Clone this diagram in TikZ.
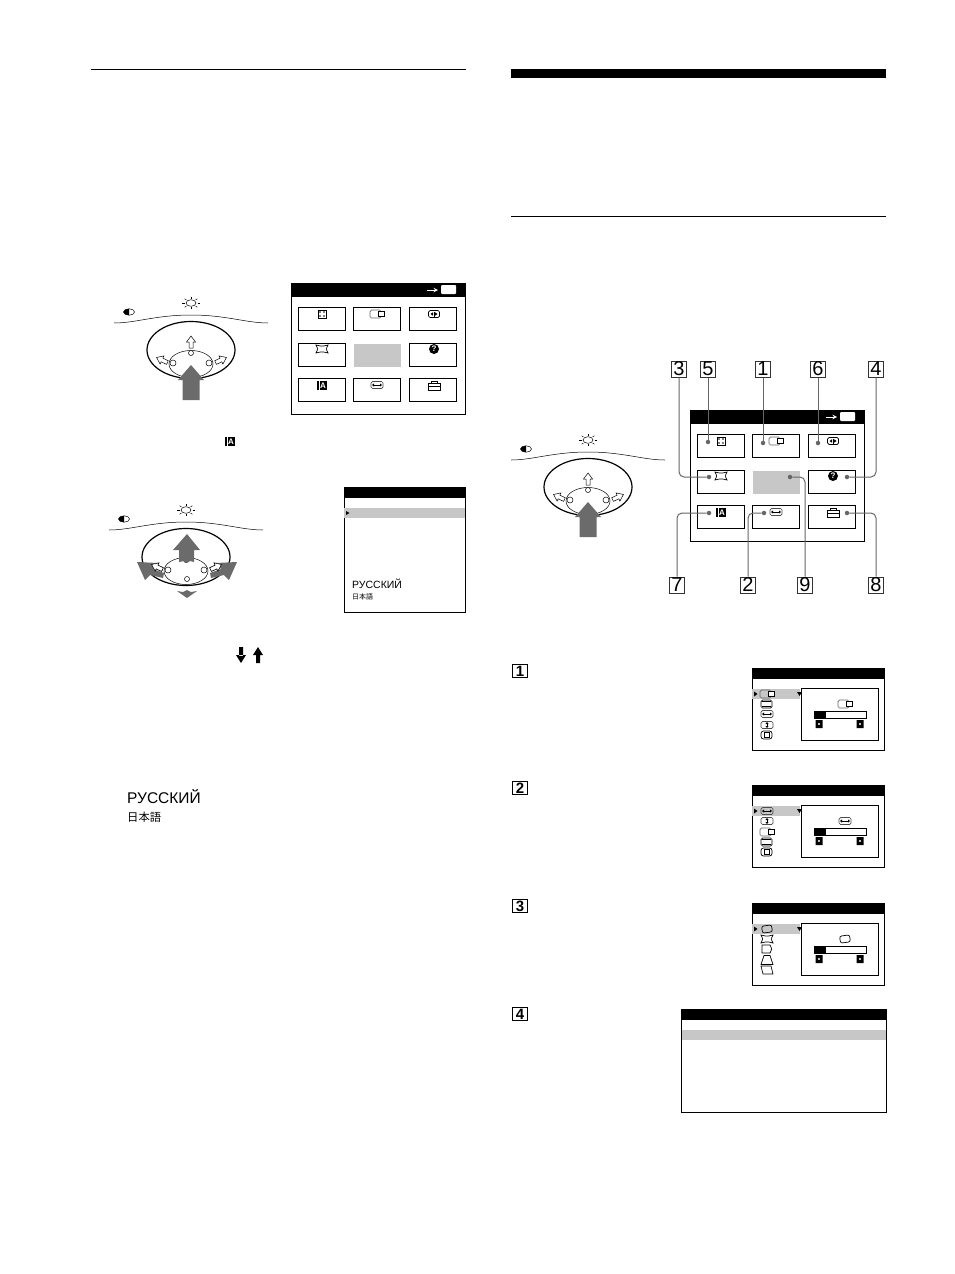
\documentclass[tikz,border=0pt]{standalone}
\usepackage{fontspec}
\setmainfont{Liberation Sans}
\newfontfamily\jpfont{Noto Sans CJK JP}
\tikzset{
	menuline/.style = {draw=black, line width=0.9pt},
	menubtn/.style = {menuline, inner sep=0pt, minimum width=47pt, minimum height=23pt},
	icon/.style = {draw=black, line width=0.7pt},
	dialline/.style = {draw=black, line width=0.5pt},
	pressfill/.style = {fill=black!58, draw=none},
	calloutnum/.style = {draw=black!80, line width=1pt, fill=white, inner sep=0pt, minimum width=15pt, minimum height=16pt, font=\fontsize{20}{20}\selectfont},
	stepnum/.style = {draw=black, line width=1.2pt, fill=white, inner sep=0pt, minimum width=15pt, minimum height=13pt, font=\fontsize{15}{15}\selectfont\bfseries},
	calloutdot/.style = {circle, fill=black!60, inner sep=0pt, minimum size=4.5pt},
	callout/.style = {draw=black!60, line width=1pt, rounded corners=5pt},
	% small icons, drawn round their centre
	icoshift/.pic = {
		\draw[icon, draw=black!60, rounded corners=1.5pt] (-7,-4) rectangle (4,4);
		\draw[icon, fill=white] (1,-3) rectangle (7,2);
	},
	icodots/.pic = {
		\draw[icon] (-4,-4) rectangle (4,4);
		\fill (-2,-2) circle (0.8) (2,-2) circle (0.8) (-2,2) circle (0.8) (2,2) circle (0.8);
	},
	icopin/.pic = {
		\draw[icon, rounded corners=1.5pt] (-5.5,-3.5) rectangle (5.5,3.5);
		\fill (-0.3,-2.5) rectangle (0.3,2.5);
		\fill (-1,-1.7) -- (-3.5,0) -- (-1,1.7) -- cycle (1,-1.7) -- (3.5,0) -- (1,1.7) -- cycle;
	},
	icokey/.pic = {
		\draw[icon] (-6,-4) .. controls (0,-2.5) .. (6,-4) .. controls (4,0) .. (6,4) .. controls (0,2.5) .. (-6,4) .. controls (-4,0) .. cycle;
	},
	icohelp/.pic = {
		\fill (0,0) circle (5);
		\node[text=white, inner sep=0pt, font=\fontsize{8}{8}\selectfont\bfseries] (-q) at (0,0) {?};
	},
	icoia/.pic = {
		\fill (-5,-4) rectangle (5,4.5);
		\draw[white, line width=0.4pt] (-3.2,-4) -- (-3.2,4.5);
		\node[text=white, inner sep=0pt, font=\fontsize{8}{8}\selectfont\bfseries] (-a) at (1,0.3) {A};
	},
	icohsize/.pic = {
		\draw[icon, draw=black!70, rounded corners=1.5pt] (-6,-3.5) rectangle (6,3.5);
		\draw[line width=0.7pt] (-4,0) -- (4,0);
		\fill (-5,0) -- (-3,-1.6) -- (-3,1.6) -- cycle (5,0) -- (3,-1.6) -- (3,1.6) -- cycle;
	},
	icovsize/.pic = {
		\draw[icon, draw=black!70, rounded corners=1.5pt] (-6,-3.5) rectangle (6,3.5);
		\draw[line width=0.7pt] (0,-2) -- (0,2);
		\fill (0,-3) -- (-1.6,-1) -- (1.6,-1) -- cycle (0,3) -- (-1.6,1) -- (1.6,1) -- cycle;
	},
	icotool/.pic = {
		\draw[icon] (-6,-1.5) rectangle (6,5);
		\draw[icon] (-6,1.5) -- (6,1.5);
		\draw[icon] (-3,-1.5) -- (-3,-4) -- (3,-4) -- (3,-1.5);
	},
	icoframe/.pic = {
		\draw[icon, rounded corners=1.5pt] (-6,-4) rectangle (5,4);
		\draw[line width=1pt] (-5,-3) -- (4,-3);
		\draw[icon] (-5,2) -- (4,2);
	},
	icoconv/.pic = {
		\draw[icon, rounded corners=2.5pt] (-6,-4) rectangle (5,4);
		\draw[icon] (-3,-2.5) rectangle (2,2.5);
	},
	icotilt/.pic = {
		\draw[icon, rounded corners=2pt, rotate=8] (-5,-3.5) rectangle (5,3.5);
	},
	icoside/.pic = {
		\draw[icon] (-5,-4) -- (3,-4) .. controls (5,0) .. (3,4) -- (-5,4) -- cycle;
	},
	icotrap/.pic = {
		\draw[icon] (-3,-4.5) -- (3,-4.5) .. controls (5,0) .. (6,4.5) -- (-6,4.5) .. controls (-5,0) .. cycle;
	},
	icopara/.pic = {
		\draw[icon] (-6,-4) -- (4,-4) -- (6,4) -- (-4,4) -- cycle;
	},
	hollowarrow/.pic = {
		\draw[icon, line width=0.5pt, fill=white] (0,-6) -- (4.5,0) -- (2,0) -- (2,6) -- (-2,6) -- (-2,0) -- (-4.5,0) -- cycle;
	},
	% the round control with its marks, centre of the oval at the origin
	dial/.pic = {
		\draw[dialline] (-77,-27) .. controls (-55,-27) and (-35,-35) .. (0,-35) .. controls (35,-35) and (55,-27) .. (77,-27);
		\draw[line width=1.2pt] (0,0) ellipse [x radius=44pt, y radius=28.5pt];
		\draw[dialline] (0,-47) ellipse [x radius=5pt, y radius=3.3pt];
		\foreach \a in {0,45,...,315}
			\draw[line width=0.5pt] ([shift={(0,-47)}]\a:6.5 and 4.3) -- ([shift={(0,-47)}]\a:9 and 6);
		\draw[dialline] (-62,-38) ellipse [x radius=5.5pt, y radius=3.2pt];
		\begin{scope}
			\clip (-68,-42) rectangle (-62,-34);
			\fill (-62,-38) ellipse [x radius=5.5pt, y radius=3.2pt];
		\end{scope}
		\draw[dialline] (0,14) ellipse [x radius=22pt, y radius=13.5pt];
		\draw[dialline, fill=white] (0,3) circle (2.5) (-18,13) circle (3) (18,13) circle (3);
		\pic at (0,-8) {hollowarrow};
		\pic[rotate=65] at (-29,10) {hollowarrow};
		\pic[rotate=-65] at (30,10) {hollowarrow};
	},
	pressarrow/.pic = {
		\path[pressfill] (0,0) -- (13,15) -- (8.5,15) -- (8.5,35) -- (-8.5,35) -- (-8.5,15) -- (-13,15) -- cycle;
	},
	% the menu with nine fields, top left corner at the origin
	mainmenu/.pic = {
		\draw[menuline] (0,0) rectangle (174,131);
		\fill (0,0) rectangle (174,14);
		\fill[white, rounded corners=1pt] (150,2) rectangle (165,11);
		\draw[white, line width=1pt, -stealth] (136,7) -- (147,7);
		\node[menubtn] (-f1) at (31,36) {};
		\node[menubtn] (-f2) at (86,36) {};
		\node[menubtn] (-f3) at (142,36) {};
		\node[menubtn] (-f4) at (31,72) {};
		\node[menubtn, draw=none, fill=black!22] (-f5) at (86,72) {};
		\node[menubtn] (-f6) at (142,72) {};
		\node[menubtn] (-f7) at (31,107) {};
		\node[menubtn] (-f8) at (86,107) {};
		\node[menubtn] (-f9) at (142,107) {};
		\pic at (31,31) {icodots};
		\pic at (86,31) {icoshift};
		\pic at (143,31) {icopin};
		\pic at (31,66) {icokey};
		\pic (-help) at (143,66) {icohelp};
		\pic (-ia) at (31,102) {icoia};
		\pic at (86,102) {icohsize};
		\pic at (143,102) {icotool};
	},
	% a setting menu with its slider, top left corner at the origin
	submenu/.pic = {
		\draw[menuline] (0,0) rectangle (132,82);
		\fill (0,0) rectangle (132,11);
		\fill[black!22] (0,21) rectangle (48,31);
		\fill (2,23.5) -- (5.5,26) -- (2,28.5) -- cycle;
		\fill (45,24) -- (50,24) -- (47.5,28) -- cycle;
		\draw[menuline, fill=white] (49,20) rectangle (126,72);
		\draw[menuline] (62,43) rectangle (114,50);
		\fill (62,43) rectangle (74,50);
		\fill (63.5,52) rectangle (70.5,60) (104.5,52) rectangle (111.5,60);
		\fill[white] (67,56) circle (1.2) (108,56) circle (1.2);
	},
}
\begin{document}
\begin{tikzpicture}[x=1pt, y=-1pt]
	\useasboundingbox (0,0) rectangle (954,1274);
	\fill[white] (0,0) rectangle (954,1274);

	% rules of the page
	\draw[line width=0.7pt] (91,69) -- (466,69);
	\fill (511,69) rectangle (886,78);
	\draw[line width=0.7pt] (511,216) -- (886,216);

	% left column, first step
	\pic at (191,350) {dial};
	\pic at (191,365) {pressarrow};
	\pic (ma) at (291,283) {mainmenu};
	\pic (iasmall) at (230,441) {icoia};

	% left column, second step
	\pic at (186,557) {dial};
	\path[pressfill] (187,534) -- (200,550) -- (194,550) -- (194,562) -- (190,561) -- (187,563) -- (184,561) -- (179,562) -- (179,550) -- (173,550) -- cycle;
	\path[pressfill] (177,591) -- (183,592) -- (187,590) -- (191,592) -- (197,591) -- (187,598) -- cycle;
	\path[pressfill] (137,562) -- (158,563) -- (153,569) -- (164,573) -- (163,578) -- (150,575) -- (145,580) -- cycle;
	\path[pressfill] (237,562) -- (216,563) -- (221,569) -- (210,573) -- (211,578) -- (224,575) -- (229,580) -- cycle;
	\pic[rotate=65] at (157,567) {hollowarrow};
	\pic[rotate=-65] at (216,567) {hollowarrow};
	\draw[dialline, fill=white] (187,579) circle (2.5);

	\draw[menuline] (344,487) rectangle (465,612);
	\fill (344,487) rectangle (465,498);
	\fill[black!22] (344,508) rectangle (465,518);
	\fill (346,511) -- (349.5,513) -- (346,515) -- cycle;
	\node[anchor=base west, inner sep=0pt, font=\fontsize{10.5}{10.5}\selectfont] (langru) at (352,588) {РУССКИЙ};
	\node[anchor=west, inner sep=0pt, font=\fontsize{7}{7}\selectfont\jpfont] (langjp) at (352,597) {日本語};

	\path[fill=black] (239,647) rectangle (243,656) (236,655) -- (246,655) -- (241,663) -- cycle;
	\path[fill=black] (256,654) rectangle (260,663) (253,655) -- (263,655) -- (258,647) -- cycle;

	\node[anchor=base west, inner sep=0pt, font=\fontsize{15.5}{15.5}\selectfont] (textru) at (127,803) {РУССКИЙ};
	\node[anchor=west, inner sep=0pt, font=\fontsize{11.3}{11.3}\selectfont\jpfont] (textjp) at (127,817) {日本語};

	% right column, overview
	\pic at (588,487) {dial};
	\pic at (588,502) {pressarrow};
	\pic (mb) at (690,410) {mainmenu};

	\node[calloutnum] (n3) at (679,369) {3};
	\node[calloutnum] (n5) at (708,369) {5};
	\node[calloutnum] (n1) at (763,369) {1};
	\node[calloutnum] (n6) at (818,369) {6};
	\node[calloutnum] (n4) at (876,369) {4};
	\node[calloutnum] (n7) at (677,585) {7};
	\node[calloutnum] (n2) at (748,585) {2};
	\node[calloutnum] (n9) at (805,585) {9};
	\node[calloutnum] (n8) at (876,585) {8};

	\node[calloutdot] (d5) at (708,442) {};
	\node[calloutdot] (d1) at (763,443) {};
	\node[calloutdot] (d6) at (818,443) {};
	\node[calloutdot] (d3) at (709,477) {};
	\node[calloutdot] (d9) at (790,477) {};
	\node[calloutdot] (d4) at (847,477) {};
	\node[calloutdot] (d7) at (709,513) {};
	\node[calloutdot] (d2) at (764,513) {};
	\node[calloutdot] (d8) at (847,513) {};

	\draw[callout] (n5) -- (d5);
	\draw[callout] (n1) -- (d1);
	\draw[callout] (n6) -- (d6);
	\draw[callout] (n3) |- (d3);
	\draw[callout] (n4) |- (d4);
	\draw[callout] (n9) |- (d9);
	\draw[callout] (n7) |- (d7);
	\draw[callout] (n2) |- (d2);
	\draw[callout] (n8) |- (d8);

	% right column, the settings
	\node[stepnum] (s1) at (520,671) {1};
	\node[stepnum] (s2) at (520,788) {2};
	\node[stepnum] (s3) at (520,906) {3};
	\node[stepnum] (s4) at (520,1014) {4};

	\pic (ms1) at (752,668) {submenu};
	\pic at (767,694) {icoshift};
	\pic at (767,704) {icoframe};
	\pic at (767,714) {icohsize};
	\pic at (767,725) {icovsize};
	\pic at (767,735) {icoconv};
	\pic at (845,704) {icoshift};

	\pic (ms2) at (752,785) {submenu};
	\pic at (767,811) {icohsize};
	\pic at (767,821) {icovsize};
	\pic at (767,832) {icoshift};
	\pic at (767,842) {icoframe};
	\pic at (767,852) {icoconv};
	\pic at (845,821) {icohsize};

	\pic (ms3) at (752,903) {submenu};
	\pic at (767,929) {icotilt};
	\pic at (767,939) {icokey};
	\pic at (767,949) {icoside};
	\pic at (767,960) {icotrap};
	\pic at (767,970) {icopara};
	\pic at (845,939) {icotilt};

	\draw[menuline] (681,1009) rectangle (886,1112);
	\fill (681,1009) rectangle (886,1020);
	\fill[black!22] (681.5,1030) rectangle (885.5,1040);
\end{tikzpicture}
\end{document}
